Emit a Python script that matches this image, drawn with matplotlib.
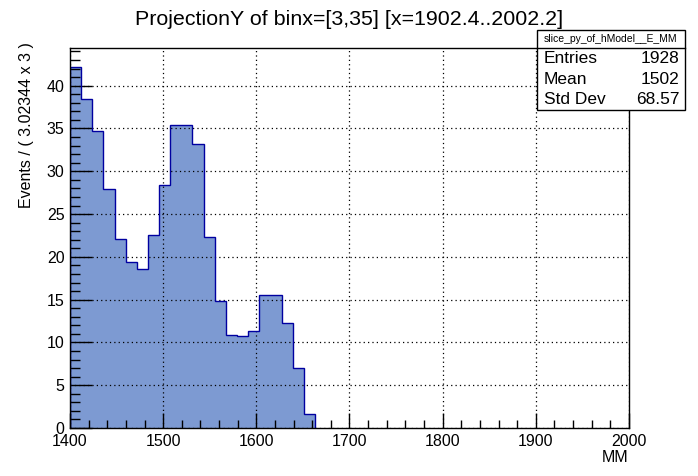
import numpy as np
import matplotlib
matplotlib.use("Agg")
import matplotlib.pyplot as plt
from matplotlib.ticker import MultipleLocator

plt.rcParams['font.family'] = ['Liberation Sans', 'DejaVu Sans']

# histogram contents
x_start = 1400.0
bin_width = 11.95
counts = [42.18, 38.44, 34.67, 27.94, 22.10, 19.42, 18.60, 22.57, 28.40, 35.41, 35.41,
          33.19, 22.33, 14.79, 10.89, 10.78, 11.36, 15.49, 15.56, 12.22, 7.04, 1.67]
edges = x_start + bin_width * np.arange(len(counts) + 1)

title = "ProjectionY of binx=[3,35] [x=1902.4..2002.2]"
hist_name = "slice_py_of_hModel__E_MM"
stats_rows = [("Entries", "1928"), ("Mean", "1502"), ("Std Dev", "68.57")]

fig = plt.figure(figsize=(6.98, 4.76), dpi=100)
ax = fig.add_axes([0.1003, 0.1008, 0.8008, 0.7992])

ax.stairs(counts, edges, fill=True, color="#7d9ad2", zorder=2)
ax.stairs(counts, edges, color="#0000a0", lw=1.0, zorder=3)

ax.set_xlim(1400, 2000)
ax.set_ylim(0, 44.45)
ax.xaxis.set_major_locator(MultipleLocator(100))
ax.xaxis.set_minor_locator(MultipleLocator(20))
ax.yaxis.set_major_locator(MultipleLocator(5))
ax.yaxis.set_minor_locator(MultipleLocator(1))
ax.tick_params(axis="x", which="major", direction="in", length=11, width=1, labelsize=11.5, pad=4)
ax.tick_params(axis="x", which="minor", direction="in", length=5.5, width=1)
ax.tick_params(axis="y", which="major", direction="in", length=16, width=1, labelsize=11.5, pad=4)
ax.tick_params(axis="y", which="minor", direction="in", length=7.5, width=1)
ax.grid(True, which="major", ls=(0, (1, 2.5)), color="black", lw=0.9, zorder=4)
ax.set_axisbelow(False)
for s in ax.spines.values():
    s.set_linewidth(1.0)
    s.set_zorder(5)

ax.set_xlabel("MM", fontsize=11.5, loc="right", labelpad=1)
ax.set_ylabel("Events / ( 3.02344 x 3 )", fontsize=11.5, loc="top", labelpad=9)
ax.yaxis.label.set_y(1.015)

fig.text(0.5, 0.960, title, ha="center", va="center", fontsize=15.4)

# stats box
bx0, bx1, by0, by1 = 537 / 698, 685 / 698, 1 - 110 / 476, 1 - 30 / 476
hy = 1 - 48 / 476
fig.patches.append(plt.Rectangle((bx0, by0), bx1 - bx0, by1 - by0, transform=fig.transFigure,
                                 facecolor="white", edgecolor="black", lw=1.0, zorder=10))
fig.lines.append(plt.Line2D([bx0, bx1], [hy, hy], transform=fig.transFigure, color="black", lw=1.0, zorder=11))
fig.text((bx0 + bx1) / 2, (hy + by1) / 2, hist_name, ha="center", va="center", fontsize=7.5, zorder=12)
row_h = (hy - by0) / len(stats_rows)
for i, (k, v) in enumerate(stats_rows):
    yy = hy - row_h * (i + 0.5)
    fig.text(bx0 + 0.01, yy, k, ha="left", va="center", fontsize=12.5, zorder=12)
    fig.text(bx1 - 0.008, yy, v, ha="right", va="center", fontsize=12.5, zorder=12)

fig.savefig("out.png", dpi=100)
